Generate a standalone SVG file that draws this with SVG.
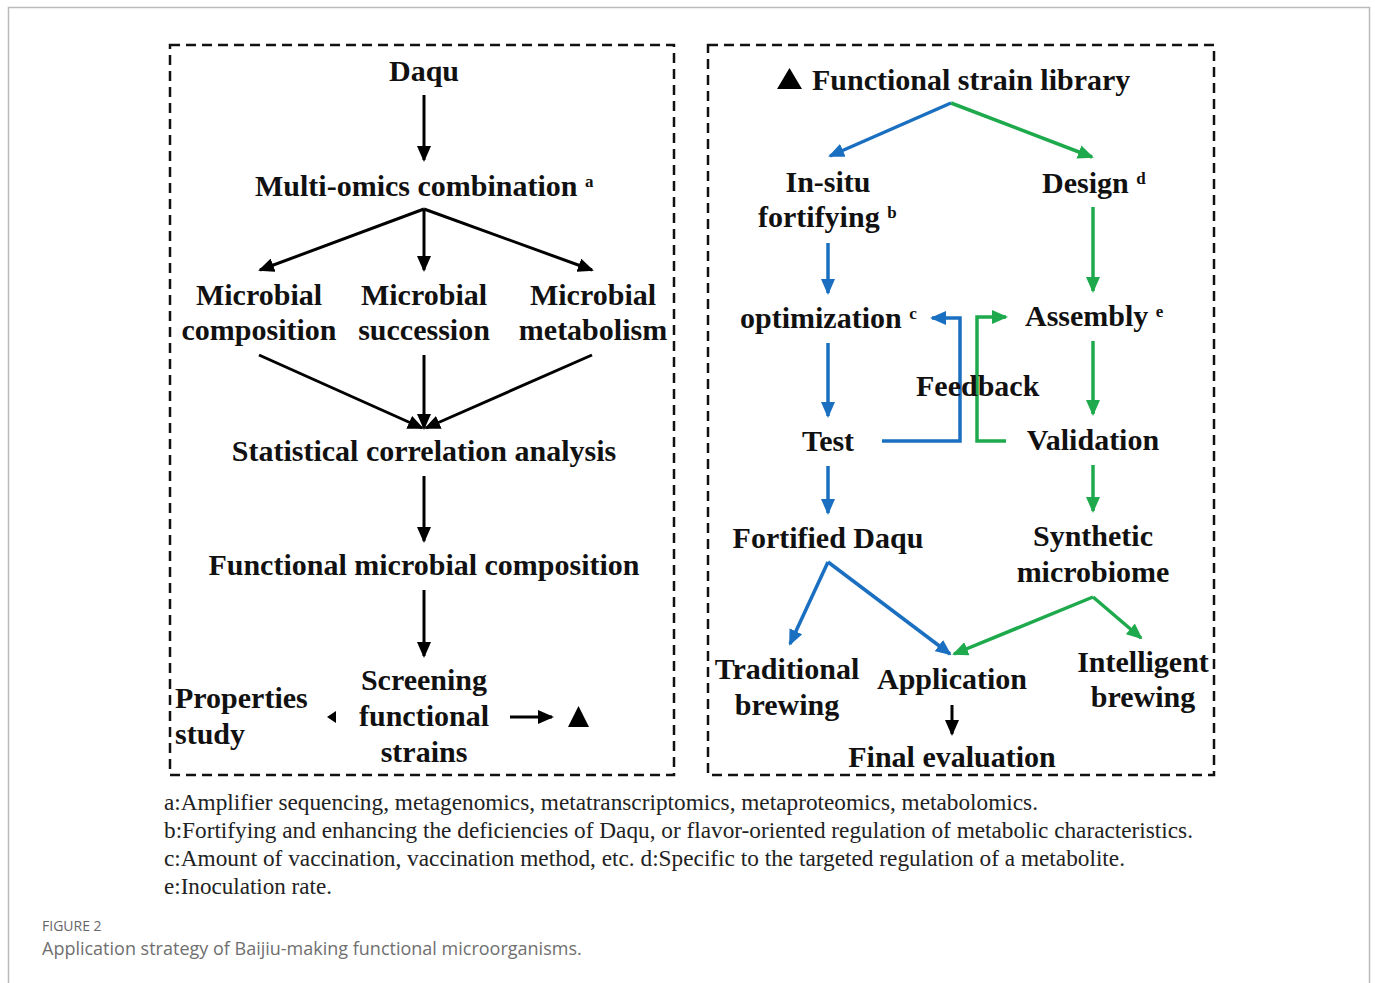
<svg xmlns="http://www.w3.org/2000/svg" width="1375" height="983" viewBox="0 0 1375 983">
<style>
.t{font-family:"Liberation Serif","Times New Roman",serif;font-weight:bold;font-size:30px;fill:#111}
.m{text-anchor:middle}
.sup{font-size:17px}
.fn{font-family:"Liberation Serif","Times New Roman",serif;font-size:23px;fill:#222}
.k{stroke:#000;stroke-width:3;fill:none}
.b{stroke:#1a6fc0;stroke-width:3.5;fill:none}
.g{stroke:#1eaa4c;stroke-width:3.5;fill:none}
.box{fill:none;stroke:#111;stroke-width:2.5;stroke-dasharray:10 6}
</style>
<defs>
<marker id="ak" markerUnits="userSpaceOnUse" markerWidth="16" markerHeight="14" refX="14" refY="7" orient="auto"><path d="M0,0 L16,7 L0,14 Z" fill="#000"/></marker>
<marker id="ab" markerUnits="userSpaceOnUse" markerWidth="16" markerHeight="14" refX="14" refY="7" orient="auto"><path d="M0,0 L16,7 L0,14 Z" fill="#1a6fc0"/></marker>
<marker id="ag" markerUnits="userSpaceOnUse" markerWidth="16" markerHeight="14" refX="14" refY="7" orient="auto"><path d="M0,0 L16,7 L0,14 Z" fill="#1eaa4c"/></marker>
</defs>
<rect x="8.5" y="7.5" width="1361" height="1000" fill="#fff" stroke="#bbb" stroke-width="1.5"/>
<rect class="box" x="170" y="45" width="504" height="730"/>
<rect class="box" x="708" y="45" width="506" height="730"/>

<g id="connectors">
<line class="k" x1="424" y1="95" x2="424" y2="160" marker-end="url(#ak)"/>
<line class="k" x1="424" y1="209" x2="260" y2="270" marker-end="url(#ak)"/>
<line class="k" x1="424" y1="209" x2="424" y2="270" marker-end="url(#ak)"/>
<line class="k" x1="424" y1="209" x2="592" y2="270" marker-end="url(#ak)"/>
<line class="k" x1="259" y1="355" x2="422" y2="428" marker-end="url(#ak)"/>
<line class="k" x1="424" y1="355" x2="424" y2="428" marker-end="url(#ak)"/>
<line class="k" x1="592" y1="355" x2="426" y2="428" marker-end="url(#ak)"/>
<line class="k" x1="424" y1="476" x2="424" y2="541" marker-end="url(#ak)"/>
<line class="k" x1="424" y1="590" x2="424" y2="656" marker-end="url(#ak)"/>
<path d="M336,711 L327,717 L336,723 Z" fill="#000"/>
<line class="k" x1="510" y1="717" x2="552" y2="717" marker-end="url(#ak)"/>
<path d="M568,727 L578.5,706 L589,727 Z" fill="#000"/>

<line class="b" x1="951" y1="103" x2="830" y2="156" marker-end="url(#ab)"/>
<line class="g" x1="951" y1="103" x2="1092" y2="157" marker-end="url(#ag)"/>
<line class="b" x1="828" y1="243" x2="828" y2="293" marker-end="url(#ab)"/>
<line class="g" x1="1093" y1="207" x2="1093" y2="291" marker-end="url(#ag)"/>
<line class="b" x1="828" y1="343" x2="828" y2="416" marker-end="url(#ab)"/>
<line class="g" x1="1093" y1="341" x2="1093" y2="414" marker-end="url(#ag)"/>
<polyline class="b" points="882,441 960,441 960,318 932,318" marker-end="url(#ab)"/>
<polyline class="g" points="1006,441 977,441 977,317 1006,317" marker-end="url(#ag)"/>
<line class="b" x1="828" y1="466" x2="828" y2="513" marker-end="url(#ab)"/>
<line class="g" x1="1093" y1="465" x2="1093" y2="511" marker-end="url(#ag)"/>
<line class="b" x1="828" y1="562" x2="950" y2="654" marker-end="url(#ab)"/>
<line class="b" x1="828" y1="562" x2="790" y2="644" marker-end="url(#ab)"/>
<line class="g" x1="1093" y1="597" x2="954" y2="654" marker-end="url(#ag)"/>
<line class="g" x1="1093" y1="597" x2="1141" y2="638" marker-end="url(#ag)"/>
<line class="k" x1="952" y1="705" x2="952" y2="734" marker-end="url(#ak)"/>
</g>

<g id="n-daqu"><text class="t m" x="424" y="81">Daqu</text></g>
<g id="n-multiomics"><text class="t" x="255" y="196">Multi-omics combination <tspan class="sup" dy="-9">a</tspan></text></g>
<g id="n-composition"><text class="t m" x="259" y="305">Microbial</text><text class="t m" x="259" y="340">composition</text></g>
<g id="n-succession"><text class="t m" x="424" y="305">Microbial</text><text class="t m" x="424" y="340">succession</text></g>
<g id="n-metabolism"><text class="t m" x="593" y="305">Microbial</text><text class="t m" x="593" y="340">metabolism</text></g>
<g id="n-statistical"><text class="t m" x="424" y="461">Statistical correlation analysis</text></g>
<g id="n-functional"><text class="t m" x="424" y="575">Functional microbial composition</text></g>
<g id="n-screening"><text class="t m" x="424" y="690">Screening</text><text class="t m" x="424" y="726">functional</text><text class="t m" x="424" y="762">strains</text></g>
<g id="n-properties"><text class="t" x="175" y="708">Properties</text><text class="t" x="175" y="744">study</text></g>

<g id="n-library"><path d="M777,89 L789.5,68 L802,89 Z" fill="#000"/><text class="t" x="812" y="90">Functional strain library</text></g>
<g id="n-insitu"><text class="t m" x="828" y="192">In-situ</text><text class="t" x="758" y="227">fortifying <tspan class="sup" dy="-9">b</tspan></text></g>
<g id="n-design"><text class="t" x="1042" y="193">Design <tspan class="sup" dy="-9">d</tspan></text></g>
<g id="n-optimization"><text class="t" x="740" y="328">optimization <tspan class="sup" dy="-9">c</tspan></text></g>
<g id="n-assembly"><text class="t" x="1025" y="326">Assembly <tspan class="sup" dy="-9">e</tspan></text></g>
<g id="n-feedback"><text class="t" x="916" y="396">Feedback</text></g>
<g id="n-test"><text class="t m" x="828" y="451">Test</text></g>
<g id="n-validation"><text class="t m" x="1093" y="450">Validation</text></g>
<g id="n-fortified"><text class="t m" x="828" y="548">Fortified Daqu</text></g>
<g id="n-synthetic"><text class="t m" x="1093" y="546">Synthetic</text><text class="t m" x="1093" y="582">microbiome</text></g>
<g id="n-traditional"><text class="t m" x="787" y="679">Traditional</text><text class="t m" x="787" y="715">brewing</text></g>
<g id="n-application"><text class="t m" x="952" y="689">Application</text></g>
<g id="n-intelligent"><text class="t m" x="1143" y="672">Intelligent</text><text class="t m" x="1143" y="707">brewing</text></g>
<g id="n-final"><text class="t m" x="952" y="767">Final evaluation</text></g>

<g id="footnotes">
<text class="fn" x="164" y="810" textLength="874" lengthAdjust="spacingAndGlyphs">a:Amplifier sequencing, metagenomics, metatranscriptomics, metaproteomics, metabolomics.</text>
<text class="fn" x="164" y="838" textLength="1029" lengthAdjust="spacingAndGlyphs">b:Fortifying and enhancing the deficiencies of Daqu, or flavor-oriented regulation of metabolic characteristics.</text>
<text class="fn" x="164" y="866" textLength="961" lengthAdjust="spacingAndGlyphs">c:Amount of vaccination, vaccination method, etc. d:Specific to the targeted regulation of a metabolite.</text>
<text class="fn" x="164" y="894" textLength="168" lengthAdjust="spacingAndGlyphs">e:Inoculation rate.</text>
</g>
<g id="caption">
<text x="42" y="931" style="font-family:'Open Sans','Noto Sans',sans-serif;font-size:14px;fill:#666">FIGURE 2</text>
<text x="42" y="955" style="font-family:'Open Sans','Noto Sans',sans-serif;font-size:18px;fill:#6f6f6f">Application strategy of Baijiu-making functional microorganisms.</text>
</g>
</svg>
